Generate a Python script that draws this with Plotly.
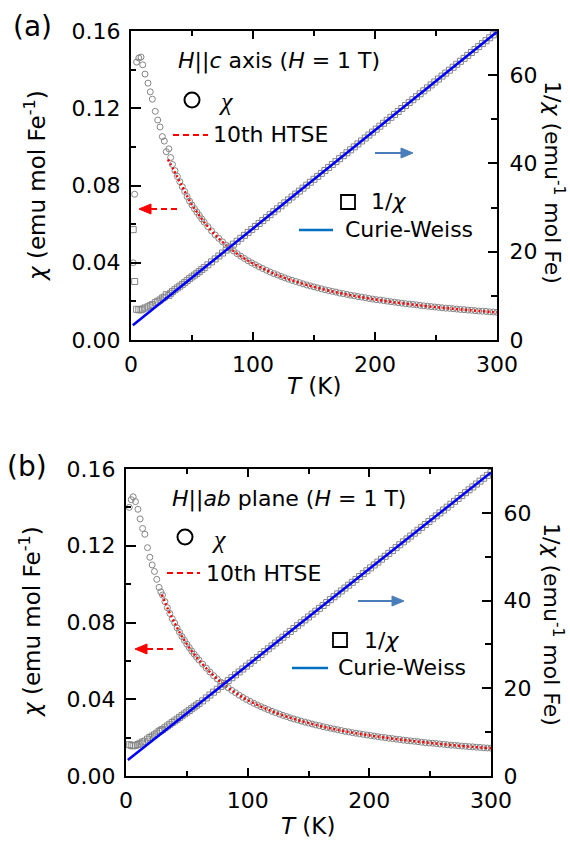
import plotly.graph_objects as go

W, H = 570, 844

# ---------------- data: panel (a) H || c ----------------
T_a = [1.8, 3.0, 4.6, 6.4, 8.2, 9.6, 11.5, 13.9, 15.8, 17.5, 19.9, 21.9, 23.8, 25.7, 27.3, 28.9, 31.0, 32.5,
       34, 36, 38, 40, 42, 44, 46, 48, 50, 52, 54, 56, 58, 60,
       63, 66, 69, 72, 75, 78, 81, 84, 87, 90, 93, 96, 99, 102, 105, 108, 111, 114, 117, 120,
       123, 126, 129, 132, 135, 138, 141, 144, 147, 150, 153, 156, 159, 162, 165, 168, 171, 174, 177, 180,
       183, 186, 189, 192, 195, 198, 201, 204, 207, 210, 213, 216, 219, 222, 225, 228, 231, 234, 237, 240,
       243, 246, 249, 252, 255, 258, 261, 264, 267, 270, 273, 276, 279, 282, 285, 288, 291, 294, 297, 300]
chi_a = [0.0400, 0.0755, 0.1439, 0.1460, 0.1465, 0.1425, 0.1377, 0.1330, 0.1285, 0.1247, 0.1184, 0.1139, 0.1103,
         0.1053, 0.1030, 0.0975, 0.0990, 0.0945,
         0.0909, 0.0877, 0.0847, 0.0820, 0.0794, 0.0769, 0.0743, 0.0719, 0.0699, 0.0680, 0.0662, 0.0645, 0.0627, 0.0610,
         0.0587, 0.0565, 0.0544, 0.0526, 0.0508, 0.0491, 0.0475, 0.0461, 0.0447, 0.0434,
         0.0422, 0.0410, 0.0399, 0.0389, 0.0379, 0.0370, 0.0361, 0.0352, 0.0344, 0.0337,
         0.0329, 0.0322, 0.0315, 0.0309, 0.0303, 0.0297, 0.0291, 0.0285, 0.0280, 0.0275,
         0.0270, 0.0265, 0.0260, 0.0256, 0.0252, 0.0248, 0.0243, 0.0240, 0.0236, 0.0232,
         0.0229, 0.0225, 0.0222, 0.0219, 0.0215, 0.0212, 0.0209, 0.0207, 0.0204, 0.0201,
         0.0198, 0.0196, 0.0193, 0.0191, 0.0188, 0.0186, 0.0184, 0.0182, 0.0179, 0.0177,
         0.0175, 0.0173, 0.0171, 0.0169, 0.0167, 0.0165, 0.0164, 0.0162, 0.0160, 0.0158,
         0.0157, 0.0155, 0.0154, 0.0152, 0.0150, 0.0149, 0.0148, 0.0146, 0.0145, 0.0143]
inv_a = [25.0, 13.25, 6.95, 6.85, 6.83, 7.02, 7.26, 7.52, 7.78, 8.02, 8.45, 8.78, 9.07, 9.50, 9.71, 10.26, 10.10, 10.58,
         11.0, 11.4, 11.8, 12.2, 12.6, 13.0, 13.45, 13.9, 14.3, 14.7, 15.1, 15.5, 15.95, 16.4,
         17.03, 17.70, 18.37, 19.03, 19.70, 20.37, 21.04, 21.71, 22.37, 23.04,
         23.71, 24.38, 25.05, 25.72, 26.38, 27.05, 27.72, 28.39, 29.06, 29.72,
         30.39, 31.06, 31.73, 32.40, 33.06, 33.73, 34.40, 35.07, 35.74, 36.41,
         37.07, 37.74, 38.41, 39.08, 39.75, 40.41, 41.08, 41.75, 42.42, 43.09,
         43.75, 44.42, 45.09, 45.76, 46.43, 47.09, 47.76, 48.43, 49.10, 49.77,
         50.44, 51.10, 51.77, 52.44, 53.11, 53.78, 54.44, 55.11, 55.78, 56.45,
         57.12, 57.78, 58.45, 59.12, 59.79, 60.46, 61.12, 61.79, 62.46, 63.13,
         63.80, 64.47, 65.13, 65.80, 66.47, 67.14, 67.81, 68.47, 69.14, 69.81]
htse_T_a = [30.3, 35, 40, 45, 50, 55, 60, 70, 80, 90, 100, 120, 140, 160, 180, 200, 220, 240, 260, 280, 300]
htse_a = [0.0935, 0.0880, 0.0818, 0.0758, 0.0699, 0.0654, 0.0610, 0.0538, 0.0480, 0.0434, 0.0396, 0.0336,
          0.0293, 0.0259, 0.0232, 0.0210, 0.0192, 0.0177, 0.0164, 0.0153, 0.0143]
cw_T_a = [1.5, 300]
cw_a = [3.33, 69.81]

# ---------------- data: panel (b) H || ab ----------------
T_b = [2.7, 4.3, 5.9, 7.8, 9.8, 11.6, 13.6, 15.5, 17.7, 19.6, 21.5, 23.4, 25.3, 27.2, 28.6,
       30, 32, 34, 36, 38, 40, 42, 44, 46, 48, 50, 52, 54, 56, 58, 60,
       63, 66, 69, 72, 75, 78, 81, 84, 87, 90, 93, 96, 99, 102, 105, 108, 111, 114, 117, 120,
       123, 126, 129, 132, 135, 138, 141, 144, 147, 150, 153, 156, 159, 162, 165, 168, 171, 174, 177, 180,
       183, 186, 189, 192, 195, 198, 201, 204, 207, 210, 213, 216, 219, 222, 225, 228, 231, 234, 237, 240,
       243, 246, 249, 252, 255, 258, 261, 264, 267, 270, 273, 276, 279, 282, 285, 288, 291, 294, 297, 300]
chi_b = [0.1400, 0.1440, 0.1455, 0.1430, 0.1390, 0.1340, 0.1290, 0.1260, 0.1190, 0.1140, 0.1100, 0.1066, 0.1025,
         0.0983, 0.0960,
         0.0943, 0.0909, 0.0877, 0.0847, 0.0820, 0.0797, 0.0772, 0.0749, 0.0727, 0.0707, 0.0687, 0.0669, 0.0651,
         0.0635, 0.0619, 0.0604,
         0.0583, 0.0562, 0.0542, 0.0523, 0.0506, 0.0489, 0.0474, 0.0460, 0.0446, 0.0434,
         0.0421, 0.0410, 0.0399, 0.0389, 0.0379, 0.0370, 0.0361, 0.0353, 0.0345, 0.0337,
         0.0330, 0.0323, 0.0316, 0.0310, 0.0303, 0.0297, 0.0292, 0.0286, 0.0281, 0.0276,
         0.0271, 0.0266, 0.0262, 0.0257, 0.0253, 0.0249, 0.0245, 0.0241, 0.0237, 0.0233,
         0.0230, 0.0226, 0.0223, 0.0220, 0.0217, 0.0214, 0.0211, 0.0208, 0.0205, 0.0202,
         0.0200, 0.0197, 0.0195, 0.0192, 0.0190, 0.0187, 0.0185, 0.0183, 0.0181, 0.0179,
         0.0176, 0.0174, 0.0172, 0.0171, 0.0169, 0.0167, 0.0165, 0.0163, 0.0161, 0.0160,
         0.0158, 0.0156, 0.0155, 0.0153, 0.0152, 0.0150, 0.0149, 0.0147, 0.0146, 0.0145]
inv_b = [7.14, 6.94, 6.87, 6.99, 7.19, 7.46, 7.75, 7.94, 8.40, 8.77, 9.09, 9.38, 9.76, 10.17, 10.42,
         10.6, 11.0, 11.4, 11.8, 12.2, 12.55, 12.95, 13.35, 13.75, 14.15, 14.55, 14.95, 15.35, 15.75, 16.15, 16.55,
         17.14, 17.80, 18.46, 19.12, 19.78, 20.44, 21.10, 21.75, 22.41, 23.07,
         23.73, 24.39, 25.05, 25.71, 26.37, 27.03, 27.69, 28.35, 29.00, 29.66,
         30.32, 30.98, 31.64, 32.30, 32.96, 33.62, 34.28, 34.94, 35.60, 36.26,
         36.91, 37.57, 38.23, 38.89, 39.55, 40.21, 40.87, 41.53, 42.19, 42.85,
         43.51, 44.16, 44.82, 45.48, 46.14, 46.80, 47.46, 48.12, 48.78, 49.44,
         50.10, 50.76, 51.41, 52.07, 52.73, 53.39, 54.05, 54.71, 55.37, 56.03,
         56.69, 57.35, 58.01, 58.66, 59.32, 59.98, 60.64, 61.30, 61.96, 62.62,
         63.28, 63.94, 64.60, 65.26, 65.91, 66.57, 67.23, 67.89, 68.55, 69.21]
htse_T_b = [29.5, 35, 40, 45, 50, 55, 60, 70, 80, 90, 100, 120, 140, 160, 180, 200, 220, 240, 260, 280, 300]
htse_b = [0.0945, 0.0862, 0.0797, 0.0738, 0.0687, 0.0643, 0.0604, 0.0535, 0.0479, 0.0434, 0.0396, 0.0337,
          0.0294, 0.0260, 0.0233, 0.0212, 0.0194, 0.0179, 0.0166, 0.0154, 0.0145]
cw_T_b = [1.5, 300]
cw_b = [3.63, 69.21]

# ---------------- ticks ----------------
x_ticks = [0, 100, 200, 300]
x_minor = [50, 150, 250]
chi_ticks = [0.00, 0.04, 0.08, 0.12, 0.16]
chi_ticktext = ["0.00", "0.04", "0.08", "0.12", "0.16"]
chi_minor = [0.02, 0.06, 0.10, 0.14]
inv_ticks = [0, 20, 40, 60]
inv_minor = [10, 30, 50]

FONT = "DejaVu Sans"
SERIF = "Liberation Serif"
GRAY = "#858585"


def px(x):
    return x / W


def py(y):
    return 1 - y / H


fig = go.Figure()


def add_panel(T, chi, inv, hT, hchi, cT, cinv, xa, ya, ya2):
    fig.add_trace(go.Scatter(x=T, y=chi, mode="markers", xaxis=xa, yaxis=ya, showlegend=False,
                             marker=dict(symbol="circle-open", size=6, color=GRAY,
                                         line=dict(width=1, color=GRAY))))
    fig.add_trace(go.Scatter(x=hT, y=hchi, mode="lines", xaxis=xa, yaxis=ya, showlegend=False,
                             line=dict(color="#ff0000", width=2.5, dash="2px,2.5px", shape="spline")))
    fig.add_trace(go.Scatter(x=T, y=inv, mode="markers", xaxis=xa, yaxis=ya2, showlegend=False,
                             marker=dict(symbol="square-open", size=6, color=GRAY,
                                         line=dict(width=1, color=GRAY))))
    fig.add_trace(go.Scatter(x=cT, y=cinv, mode="lines", xaxis=xa, yaxis=ya2, showlegend=False,
                             line=dict(color="#0000ff", width=2.5)))


add_panel(T_a, chi_a, inv_a, htse_T_a, htse_a, cw_T_a, cw_a, "x", "y", "y2")
add_panel(T_b, chi_b, inv_b, htse_T_b, htse_b, cw_T_b, cw_b, "x2", "y3", "y4")

tickfont = dict(family=FONT, size=22, color="black")
common = dict(showgrid=False, zeroline=False, showline=True, linewidth=2, linecolor="black",
              ticks="inside", tickwidth=2, tickcolor="black", tickfont=tickfont, automargin=False)


def xaxis(dom, anchor):
    return dict(domain=dom, anchor=anchor, range=[0, 300], tickvals=x_ticks, ticklen=8, mirror="ticks",
                ticklabelstandoff=4,
                minor=dict(tickvals=x_minor, ticks="inside", ticklen=5, tickwidth=2, tickcolor="black"),
                **common)


def yleft(dom, anchor):
    return dict(domain=dom, anchor=anchor, range=[0, 0.16], tickvals=chi_ticks, ticktext=chi_ticktext,
                ticklen=10, ticklabelstandoff=4,
                minor=dict(tickvals=chi_minor, ticks="inside", ticklen=5, tickwidth=2, tickcolor="black"),
                **common)


def yright(over, anchor):
    return dict(overlaying=over, anchor=anchor, side="right", range=[0, 70], tickvals=inv_ticks,
                ticklen=9, ticklabelstandoff=6,
                minor=dict(tickvals=inv_minor, ticks="inside", ticklen=6, tickwidth=2, tickcolor="black"),
                **common)


xa_dom = [px(131), px(497)]
xb_dom = [px(126), px(491)]
ya_dom = [py(340), py(31)]
yb_dom = [py(776), py(469)]

shapes = []
annotations = []


def text(x, y, s, size=22, xanchor="center", angle=0, family=FONT):
    annotations.append(dict(x=px(x), y=py(y), xref="paper", yref="paper", text=s, showarrow=False,
                            xanchor=xanchor, yanchor="middle", textangle=angle,
                            font=dict(family=family, size=size, color="black")))


def line(x0, y0, x1, y1, color, width=2, dash="solid"):
    shapes.append(dict(type="line", xref="paper", yref="paper", x0=px(x0), y0=py(y0), x1=px(x1), y1=py(y1),
                       line=dict(color=color, width=width, dash=dash)))


def tri(tipx, y, basex, half, color):
    path = "M {},{} L {},{} L {},{} Z".format(px(tipx), py(y), px(basex), py(y - half), px(basex), py(y + half))
    shapes.append(dict(type="path", xref="paper", yref="paper", path=path, fillcolor=color,
                       line=dict(color=color, width=1)))


def circle(cx, cy, r):
    shapes.append(dict(type="circle", xref="paper", yref="paper", x0=px(cx - r), x1=px(cx + r),
                       y0=py(cy + r), y1=py(cy - r), line=dict(color="black", width=2)))


def square(cx, cy, r):
    shapes.append(dict(type="rect", xref="paper", yref="paper", x0=px(cx - r), x1=px(cx + r),
                       y0=py(cy + r), y1=py(cy - r), line=dict(color="black", width=1.8)))


chi_sym = "<i>χ</i>"
ARROW_BLUE = "#4a7ebb"
LEG_BLUE = "#0070c0"

# ---- panel (a) decorations ----
text(32, 27, "(a)", size=28)
text(279, 61, "<i>H</i>||<i>c</i> axis (<i>H</i> = 1 T)")
circle(192, 100, 7.5)
text(225, 102, "<i>χ</i>", size=26, family=SERIF)
line(173, 135, 208, 135, "#ff0000", 2, "6px,4px")
text(211, 134, "10th HTSE", xanchor="left")
line(375, 153, 402, 153, ARROW_BLUE, 2)
tri(413, 153, 401, 5, ARROW_BLUE)
line(177, 209, 150, 209, "#ff0000", 2, "6px,4px")
tri(139, 209, 151, 5, "#ff0000")
square(348, 202, 7)
text(369, 202, "1/" + chi_sym, xanchor="left")
line(299, 230, 333, 230, LEG_BLUE, 2.5)
text(343, 230, "Curie-Weiss", xanchor="left")
text(35, 186, chi_sym + " (emu mol Fe<sup>-1</sup>)", size=23, angle=-90)
text(554, 182, "1/" + chi_sym + " (emu<sup>-1</sup> mol Fe)", size=22, angle=90)
text(314, 386, "<i>T</i> (K)", size=23)

# ---- panel (b) decorations ----
text(27, 466, "(b)", size=28)
text(289, 499, "<i>H</i>||<i>ab</i> plane (<i>H</i> = 1 T)")
circle(185, 537, 7.5)
text(219, 539, "<i>χ</i>", size=26, family=SERIF)
line(167, 573, 200, 573, "#ff0000", 2, "6px,4px")
text(204, 573, "10th HTSE", xanchor="left")
line(358, 601, 393, 601, ARROW_BLUE, 2)
tri(404, 601, 392, 5, ARROW_BLUE)
line(173, 649, 146, 649, "#ff0000", 2, "6px,4px")
tri(135, 649, 147, 5, "#ff0000")
square(340, 640, 7)
text(362, 640, "1/" + chi_sym, xanchor="left")
line(292, 668, 328, 668, LEG_BLUE, 2.5)
text(336, 667, "Curie-Weiss", xanchor="left")
text(30, 622, chi_sym + " (emu mol Fe<sup>-1</sup>)", size=23, angle=-90)
text(553, 624, "1/" + chi_sym + " (emu<sup>-1</sup> mol Fe)", size=22, angle=90)
text(308, 826, "<i>T</i> (K)", size=23)

fig.update_layout(
    width=W, height=H, autosize=False,
    margin=dict(l=0, r=0, t=0, b=0, pad=0, autoexpand=False),
    paper_bgcolor="white", plot_bgcolor="white",
    xaxis=xaxis(xa_dom, "y"),
    yaxis=yleft(ya_dom, "x"),
    yaxis2=yright("y", "x"),
    xaxis2=xaxis(xb_dom, "y3"),
    yaxis3=yleft(yb_dom, "x2"),
    yaxis4=yright("y3", "x2"),
    shapes=shapes,
    annotations=annotations,
    font=dict(family=FONT, color="black"),
)

fig.write_html("out.html")
